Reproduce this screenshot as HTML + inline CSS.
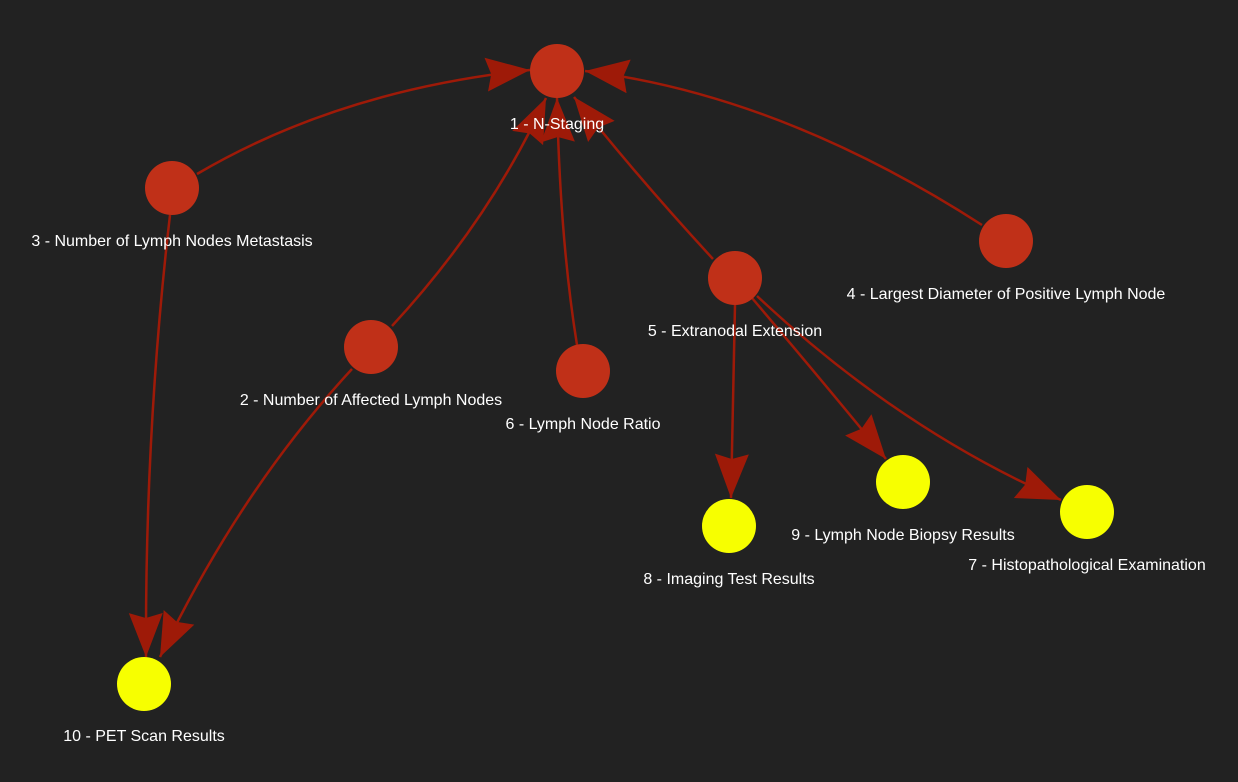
<!DOCTYPE html>
<html><head><meta charset="utf-8"><style>
html,body{margin:0;padding:0;background:#222222;}
svg{display:block;}
text{font-family:"Liberation Sans",Arial,sans-serif;font-size:16px;fill:#ffffff;text-anchor:middle;}
</style></head><body>
<svg width="1238" height="782" viewBox="0 0 1238 782">
<defs>
<marker id="a" markerUnits="userSpaceOnUse" markerWidth="50" markerHeight="36" refX="44" refY="17" orient="auto">
<path d="M0,0 L44,17 L0,34 L5,17 Z" fill="#9e1a08"/>
</marker>
</defs>
<g fill="none" stroke="#9e1a08" stroke-width="2.5" marker-end="url(#a)">
<path d="M197,174 Q340,90 530,70"/>
<path d="M982,225 Q780,95 585,71"/>
<path d="M392,326 Q490,220 546,98"/>
<path d="M577,345 Q560,240 557,98"/>
<path d="M713,259 Q640,180 574,97"/>
<path d="M170,215 Q145,430 146,657"/>
<path d="M352,369 Q240,490 160,657"/>
<path d="M735,305 Q733,400 731,498"/>
<path d="M752,298 Q830,390 886,459"/>
<path d="M757,296 Q900,430 1061,500"/>
</g>
<g fill="#c03018">
<circle cx="557" cy="71" r="27"/>
<circle cx="172" cy="188" r="27"/>
<circle cx="1006" cy="241" r="27"/>
<circle cx="735" cy="278" r="27"/>
<circle cx="371" cy="347" r="27"/>
<circle cx="583" cy="371" r="27"/>
</g>
<g fill="#f7ff00">
<circle cx="903" cy="482" r="27"/>
<circle cx="1087" cy="512" r="27"/>
<circle cx="729" cy="526" r="27"/>
<circle cx="144" cy="684" r="27"/>
</g>
<text x="557" y="129">1 - N-Staging</text>
<text x="172" y="246">3 - Number of Lymph Nodes Metastasis</text>
<text x="1006" y="299">4 - Largest Diameter of Positive Lymph Node</text>
<text x="735" y="336">5 - Extranodal Extension</text>
<text x="371" y="405">2 - Number of Affected Lymph Nodes</text>
<text x="583" y="429">6 - Lymph Node Ratio</text>
<text x="903" y="540">9 - Lymph Node Biopsy Results</text>
<text x="1087" y="570">7 - Histopathological Examination</text>
<text x="729" y="584">8 - Imaging Test Results</text>
<text x="144" y="741">10 - PET Scan Results</text>
</svg>
</body></html>
